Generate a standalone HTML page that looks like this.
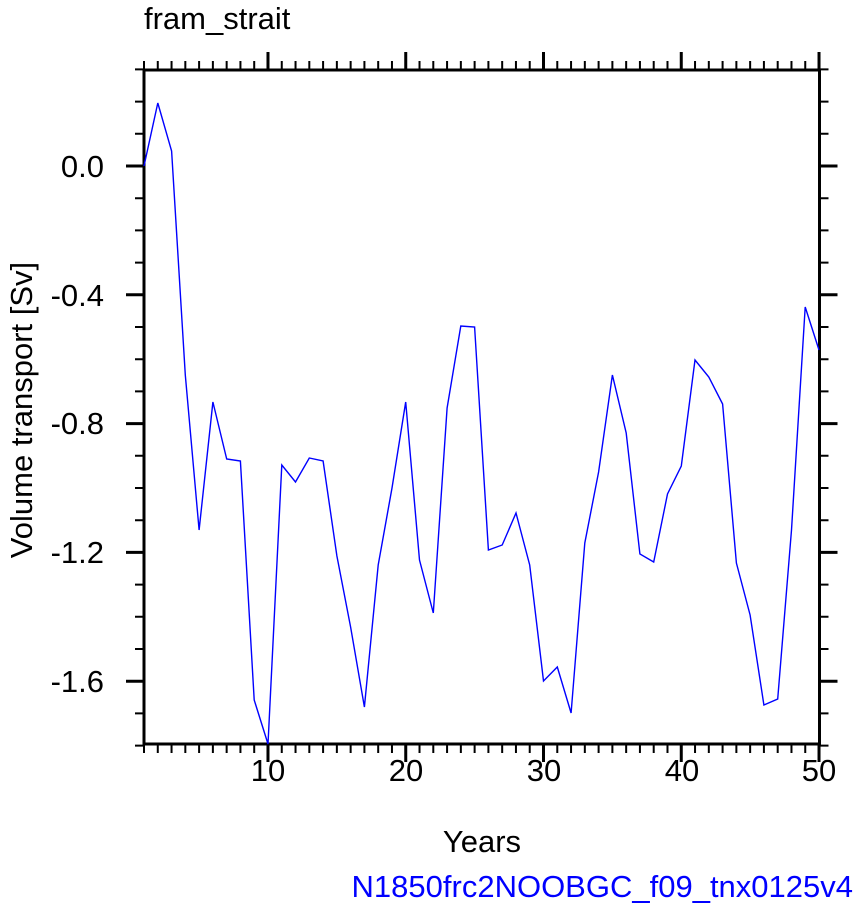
<!DOCTYPE html>
<html><head><style>
html,body{margin:0;padding:0;background:#fff;}
svg{display:block;font-family:"Liberation Sans",Arial,sans-serif;}
</style></head><body>
<svg id="s" width="858" height="911" viewBox="0 0 858 911" xmlns="http://www.w3.org/2000/svg">
<text x="144" y="29" font-size="31" fill="#000">fram_strait</text>
<g id="ticks" stroke="#000" fill="none"></g>
<rect x="144" y="70" width="675.5" height="674" fill="none" stroke="#000" stroke-width="3"/>
<polyline id="ln" fill="none" stroke="#0000ff" stroke-width="1.4" points=""/>
<g font-size="31" fill="#000" text-anchor="end">
<text x="104" y="177">0.0</text>
<text x="104" y="306">-0.4</text>
<text x="104" y="434">-0.8</text>
<text x="104" y="563">-1.2</text>
<text x="104" y="692">-1.6</text>
</g>
<g font-size="31" fill="#000" text-anchor="middle">
<text x="268" y="781">10</text>
<text x="406" y="781">20</text>
<text x="544" y="781">30</text>
<text x="682" y="781">40</text>
<text x="819" y="781">50</text>
<text x="482" y="852">Years</text>
</g>
<text transform="translate(32,410) rotate(-90)" font-size="31" text-anchor="middle" fill="#000">Volume transport [Sv]</text>
<text x="853" y="897" font-size="31" text-anchor="end" fill="#0000ff">N1850frc2NOOBGC_f09_tnx0125v4</text>
</svg>
<script>
var ys=[166,103,151,375,530,402,459,461,700,744,465,482,458,461,556,627,707,565,488,402,560,613,408,326,327,550,545,513,565,681,667,713,543,472,375,433,554,562,494,466,360,377,404,563,615,705,699,530,307,350];
var pts=ys.map(function(y,i){return (144+i*13.776).toFixed(1)+","+y;}).join(" ");
document.getElementById("ln").setAttribute("points",pts);
var d="",D="";
for(var i=1;i<=50;i++){var x=144+(i-1)*13.776;
 if(i%10==0){D+="M"+x+" 744V762M"+x+" 70V52";} else {d+="M"+x+" 744V753M"+x+" 70V61";}}
for(var k=-18;k<=3;k++){var y=166-k*32.2;
 if(k%4==0){D+="M144 "+y+"H126M819.5 "+y+"H837.5";} else {d+="M144 "+y+"H135M819.5 "+y+"H828.5";}}
var g=document.getElementById("ticks");
g.innerHTML='<path d="'+d+'" stroke-width="2"/><path d="'+D+'" stroke-width="3"/>';
</script>
</body></html>
